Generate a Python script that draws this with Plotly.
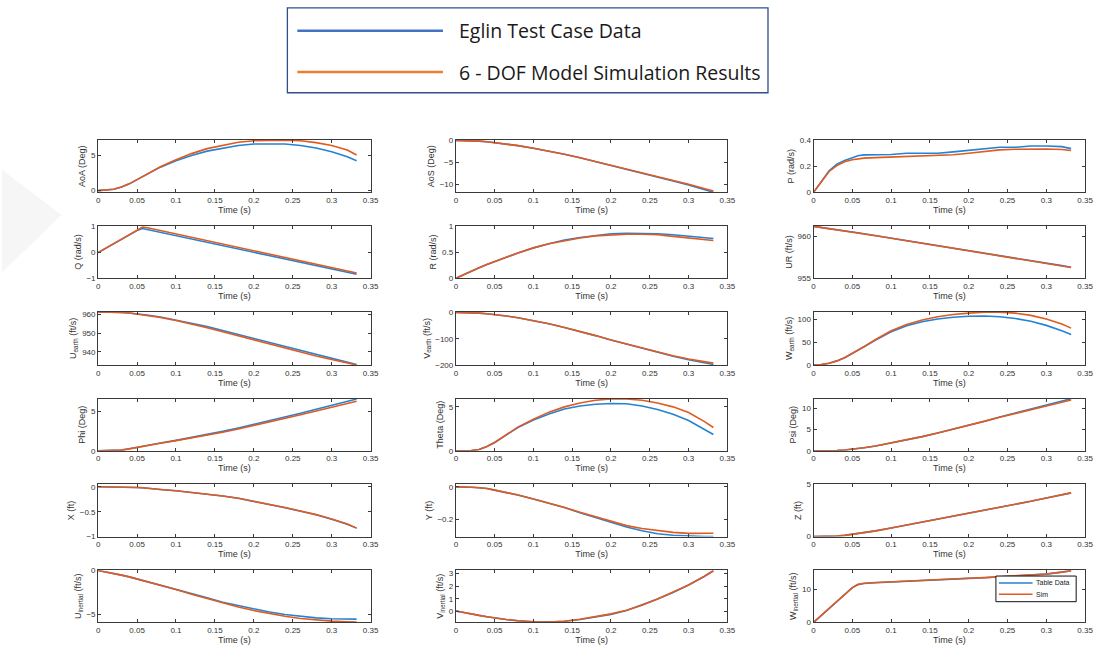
import plotly.graph_objects as go

# ---------------- data ----------------
T = [0, 0.01, 0.02, 0.03, 0.04, 0.05, 0.057, 0.065, 0.08, 0.10, 0.12, 0.14,
     0.16, 0.18, 0.20, 0.22, 0.24, 0.26, 0.28, 0.30, 0.32, 0.332]

AOA_TABLE = [0, 0.05, 0.2, 0.5, 0.95, 1.55, 1.95, 2.4, 3.3, 4.2, 4.95, 5.55, 6.0, 6.35, 6.55, 6.6, 6.55, 6.35, 6.0, 5.45, 4.75, 4.2]
AOA_SIM = [0, 0.05, 0.2, 0.5, 0.95, 1.55, 1.95, 2.4, 3.35, 4.35, 5.2, 5.9, 6.4, 6.8, 7.0, 7.1, 7.1, 7.0, 6.75, 6.35, 5.7, 5.0]

AOS_TABLE = [0, -0.02, -0.08, -0.18, -0.32, -0.5, -0.65, -0.85, -1.2, -1.8, -2.45, -3.15, -3.95, -4.8, -5.65, -6.5, -7.4, -8.3, -9.2, -10.1, -11.1, -11.75]
AOS_SIM = [0, -0.02, -0.08, -0.18, -0.32, -0.5, -0.65, -0.85, -1.2, -1.8, -2.45, -3.15, -3.95, -4.8, -5.62, -6.45, -7.33, -8.2, -9.08, -9.95, -10.9, -11.5]

P_TABLE = [0, 0.085, 0.165, 0.215, 0.245, 0.265, 0.28, 0.287, 0.288, 0.29, 0.3, 0.3, 0.3, 0.31, 0.32, 0.335, 0.345, 0.345, 0.355, 0.355, 0.35, 0.335]
P_SIM = [0, 0.085, 0.16, 0.205, 0.235, 0.25, 0.258, 0.262, 0.266, 0.27, 0.273, 0.276, 0.28, 0.288, 0.3, 0.315, 0.325, 0.33, 0.332, 0.332, 0.328, 0.32]

Q_TABLE = [-0.02, 0.15, 0.32, 0.48, 0.65, 0.82, 0.9, 0.85, 0.754, 0.627, 0.5, 0.372, 0.245, 0.118, -0.01, -0.137, -0.264, -0.39, -0.52, -0.645, -0.77, -0.85]
Q_SIM = [-0.02, 0.15, 0.32, 0.49, 0.66, 0.84, 0.96, 0.92, 0.823, 0.694, 0.565, 0.436, 0.307, 0.178, 0.048, -0.08, -0.21, -0.34, -0.47, -0.6, -0.72, -0.8]

R_TABLE = [0, 0.07, 0.14, 0.2, 0.26, 0.32, 0.36, 0.4, 0.48, 0.58, 0.66, 0.73, 0.78, 0.82, 0.85, 0.86, 0.86, 0.85, 0.83, 0.8, 0.77, 0.76]
R_SIM = [0, 0.07, 0.14, 0.2, 0.26, 0.32, 0.36, 0.4, 0.48, 0.58, 0.66, 0.72, 0.77, 0.81, 0.83, 0.84, 0.84, 0.83, 0.8, 0.77, 0.74, 0.72]

UR_TABLE = [961.2, 961.08, 960.95, 960.82, 960.68, 960.54, 960.44, 960.32, 960.1, 959.8, 959.5, 959.2, 958.9, 958.6, 958.3, 958.0, 957.7, 957.4, 957.1, 956.8, 956.5, 956.3]
UR_SIM = [961.2, 961.07, 960.94, 960.8, 960.66, 960.52, 960.42, 960.3, 960.08, 959.78, 959.48, 959.18, 958.88, 958.58, 958.28, 957.98, 957.68, 957.38, 957.08, 956.78, 956.48, 956.28]

UE_TABLE = [961.3, 961.3, 961.2, 961.0, 960.7, 960.3, 959.9, 959.5, 958.6, 957.0, 955.3, 953.5, 951.4, 949.3, 947.2, 945.0, 942.8, 940.6, 938.5, 936.4, 934.4, 933.2]
UE_SIM = [961.3, 961.3, 961.2, 961.0, 960.7, 960.2, 959.8, 959.3, 958.3, 956.7, 954.9, 952.9, 950.7, 948.5, 946.3, 944.1, 941.9, 939.8, 937.8, 935.9, 934.1, 933.0]

VE_TABLE = [0, -0.3, -1.0, -2.5, -4.5, -7.5, -10, -13, -20, -31, -43, -57, -72, -88, -105, -121, -137, -152, -167, -180, -192, -198]
VE_SIM = [0, -0.3, -1.0, -2.5, -4.5, -7.5, -10, -13, -20, -31, -43, -57, -72, -88, -105, -120, -135.5, -150, -164.5, -177, -187, -193]

WE_TABLE = [0, 1, 4, 9, 16, 25, 32, 40, 55, 73, 86, 95, 101, 105, 107, 107.5, 106, 102, 96, 87, 75, 67]
WE_SIM = [0, 1, 4, 9, 16, 25, 32, 40, 56, 75, 89, 99, 106, 111, 114, 116, 116, 114, 109, 101, 90, 81]

PHI_TABLE = [0, 0, 0.02, 0.08, 0.25, 0.45, 0.58, 0.72, 0.98, 1.32, 1.68, 2.05, 2.45, 2.88, 3.33, 3.8, 4.25, 4.75, 5.25, 5.72, 6.2, 6.55]
PHI_SIM = [0, 0, 0.02, 0.08, 0.24, 0.43, 0.56, 0.7, 0.95, 1.28, 1.62, 1.97, 2.35, 2.75, 3.18, 3.62, 4.07, 4.55, 5.02, 5.5, 5.95, 6.25]

THETA_TABLE = [0, 0, 0.03, 0.15, 0.5, 0.95, 1.35, 1.8, 2.65, 3.5, 4.2, 4.75, 5.1, 5.3, 5.38, 5.35, 5.1, 4.7, 4.15, 3.45, 2.5, 1.85]
THETA_SIM = [0, 0, 0.03, 0.15, 0.5, 0.95, 1.35, 1.8, 2.7, 3.6, 4.4, 5.0, 5.45, 5.75, 5.9, 5.9, 5.75, 5.45, 5.0, 4.35, 3.35, 2.65]

PSI_TABLE = [0, 0, 0.02, 0.08, 0.2, 0.38, 0.52, 0.7, 1.15, 1.85, 2.55, 3.35, 4.2, 5.1, 6.0, 7.0, 8.0, 8.95, 9.9, 10.8, 11.7, 12.3]
PSI_SIM = [0, 0, 0.02, 0.08, 0.2, 0.38, 0.52, 0.7, 1.15, 1.85, 2.55, 3.35, 4.2, 5.08, 5.97, 6.95, 7.92, 8.85, 9.75, 10.6, 11.45, 12.0]

X_TABLE = [0, 0, -0.002, -0.005, -0.01, -0.015, -0.02, -0.028, -0.055, -0.08, -0.11, -0.15, -0.185, -0.23, -0.29, -0.35, -0.42, -0.49, -0.56, -0.65, -0.75, -0.83]
X_SIM = [0, 0, -0.002, -0.005, -0.01, -0.015, -0.02, -0.028, -0.054, -0.079, -0.109, -0.148, -0.183, -0.228, -0.287, -0.347, -0.417, -0.487, -0.558, -0.648, -0.748, -0.83]

Y_TABLE = [0, 0, -0.002, -0.005, -0.01, -0.02, -0.027, -0.035, -0.05, -0.075, -0.1, -0.128, -0.16, -0.19, -0.22, -0.248, -0.272, -0.29, -0.3, -0.305, -0.307, -0.307]
Y_SIM = [0, 0, -0.002, -0.005, -0.01, -0.02, -0.027, -0.035, -0.05, -0.075, -0.1, -0.127, -0.157, -0.186, -0.215, -0.24, -0.258, -0.272, -0.282, -0.288, -0.289, -0.287]

Z_TABLE = [0, 0.01, 0.03, 0.06, 0.12, 0.22, 0.29, 0.37, 0.55, 0.82, 1.1, 1.38, 1.66, 1.93, 2.2, 2.48, 2.78, 3.08, 3.38, 3.7, 4.0, 4.18]
Z_SIM = [0, 0.01, 0.03, 0.06, 0.12, 0.22, 0.29, 0.37, 0.55, 0.82, 1.1, 1.38, 1.66, 1.93, 2.2, 2.48, 2.78, 3.08, 3.38, 3.7, 4.0, 4.18]

UI_TABLE = [0, -0.15, -0.33, -0.52, -0.72, -0.95, -1.1, -1.28, -1.65, -2.1, -2.6, -3.1, -3.6, -4.0, -4.4, -4.72, -5.0, -5.22, -5.38, -5.48, -5.52, -5.53]
UI_SIM = [0, -0.15, -0.33, -0.52, -0.72, -0.95, -1.1, -1.28, -1.67, -2.15, -2.7, -3.2, -3.7, -4.15, -4.55, -4.9, -5.2, -5.45, -5.62, -5.75, -5.82, -5.85]

VI_TABLE = [0.05, -0.08, -0.2, -0.3, -0.4, -0.5, -0.56, -0.62, -0.72, -0.8, -0.82, -0.76, -0.62, -0.44, -0.22, 0.08, 0.5, 0.98, 1.5, 2.08, 2.75, 3.2]
VI_SIM = [0.05, -0.08, -0.2, -0.3, -0.4, -0.5, -0.56, -0.62, -0.72, -0.8, -0.82, -0.76, -0.6, -0.41, -0.18, 0.1, 0.5, 0.98, 1.5, 2.08, 2.75, 3.2]

WI_TABLE = [0, 2.1, 4.2, 6.3, 8.4, 10.5, 11.4, 11.75, 12.0, 12.25, 12.45, 12.65, 12.85, 13.05, 13.3, 13.5, 13.75, 14.0, 14.25, 14.6, 15.2, 15.65]
WI_SIM = [0, 2.1, 4.2, 6.3, 8.4, 10.5, 11.5, 11.85, 12.05, 12.3, 12.5, 12.7, 12.9, 13.1, 13.35, 13.55, 13.8, 14.05, 14.3, 14.65, 15.2, 15.65]

X_TICKS = [0, 0.05, 0.1, 0.15, 0.2, 0.25, 0.3, 0.35]
LEGEND_TOP = ["Eglin Test Case Data", "6 - DOF Model Simulation Results"]
LEGEND_SMALL = ["Table Data", "Sim"]

PANELS = [
    ("AoA (Deg)", AOA_TABLE, AOA_SIM, [-0.25, 7.1], [0, 5]),
    ("AoS (Deg)", AOS_TABLE, AOS_SIM, [-11.8, 0.05], [-10, -5, 0]),
    ("P (rad/s)", P_TABLE, P_SIM, [0, 0.4], [0, 0.2, 0.4]),
    ("Q (rad/s)", Q_TABLE, Q_SIM, [-1, 1], [-1, 0, 1]),
    ("R (rad/s)", R_TABLE, R_SIM, [0, 1], [0, 0.5, 1]),
    ("UR (ft/s)", UR_TABLE, UR_SIM, [955, 961.25], [955, 960]),
    ("U<sub>earth</sub> (ft/s)", UE_TABLE, UE_SIM, [933, 961.4], [940, 950, 960]),
    ("V<sub>earth</sub> (ft/s)", VE_TABLE, VE_SIM, [-200, 3], [-200, -100, 0]),
    ("W<sub>earth</sub> (ft/s)", WE_TABLE, WE_SIM, [0, 117], [0, 50, 100]),
    ("Phi (Deg)", PHI_TABLE, PHI_SIM, [0, 6.6], [0, 5]),
    ("Theta (Deg)", THETA_TABLE, THETA_SIM, [0, 5.95], [0, 5]),
    ("Psi (Deg)", PSI_TABLE, PSI_SIM, [0, 12.35], [0, 5, 10]),
    ("X (ft)", X_TABLE, X_SIM, [-1, 0.05], [-1, -0.5, 0]),
    ("Y (ft)", Y_TABLE, Y_SIM, [-0.308, 0.016], [-0.2, 0]),
    ("Z (ft)", Z_TABLE, Z_SIM, [0, 5], [0, 5]),
    ("U<sub>inertial</sub> (ft/s)", UI_TABLE, UI_SIM, [-5.9, 0.05], [-5, 0]),
    ("V<sub>inertial</sub> (ft/s)", VI_TABLE, VI_SIM, [-0.85, 3.25], [0, 1, 2, 3]),
    ("W<sub>inertial</sub> (ft/s)", WI_TABLE, WI_SIM, [0, 15.8], [0, 10]),
]

# ---------------- styling / layout ----------------
W, H = 1103, 657
BLUE = "#2483d2"
ORANGE = "#e05a22"
AX = "#3a3a3a"
FONT = "Liberation Sans, Arial, sans-serif"

COLS = [(97, 372), (458, 732), (819, 1093)]
ROWS = [(138, 191), (225, 278), (312, 366), (400, 453), (487, 540), (574, 627)]


def px_x(v):
    return v / W


def px_y(v):
    return 1 - v / H


fig = go.Figure()
layout = {}
for i, (ytitle, tab, sim, yr, yt) in enumerate(PANELS):
    k = i + 1
    r, c = divmod(i, 3)
    xa = "x" if k == 1 else f"x{k}"
    ya = "y" if k == 1 else f"y{k}"
    fig.add_trace(go.Scatter(x=T, y=tab, xaxis=xa, yaxis=ya, mode="lines",
                             line=dict(color=BLUE, width=1.6),
                             name=LEGEND_SMALL[0], showlegend=False))
    fig.add_trace(go.Scatter(x=T, y=sim, xaxis=xa, yaxis=ya, mode="lines",
                             line=dict(color=ORANGE, width=1.6),
                             name=LEGEND_SMALL[1], showlegend=False))
    x0, x1 = COLS[c]
    y0, y1 = ROWS[r]
    common = dict(showline=True, mirror="ticks", linecolor=AX, linewidth=1,
                  ticks="inside", ticklen=3, tickcolor=AX, showgrid=False,
                  zeroline=False, tickfont=dict(size=8, color="#333", family=FONT))
    layout[f"xaxis{k}"] = dict(domain=[px_x(x0), px_x(x1)], anchor=ya,
                               range=[0, 0.35], tickvals=X_TICKS,
                               title=dict(text="Time (s)", standoff=2,
                                          font=dict(size=9, color="#333", family=FONT)),
                               **common)
    layout[f"yaxis{k}"] = dict(domain=[px_y(y1), px_y(y0)], anchor=xa,
                               range=yr, tickvals=yt,
                               title=dict(text=ytitle, standoff=3,
                                          font=dict(size=9, color="#333", family=FONT)),
                               **common)

fig.update_layout(**layout)

TOPFONT = dict(size=19.5, color="#1a1a1a", family="Open Sans, sans-serif")
SMALLFONT = dict(size=7, color="#222", family=FONT)

shapes = [
    # faint grey wedge at the left edge
    dict(type="path", xref="paper", yref="paper",
         path=f"M 0,{px_y(168)} L {px_x(60)},{px_y(214)} L 0,{px_y(272)} Z",
         line=dict(width=0), fillcolor="#f6f6f6", layer="below"),
    # top legend box
    dict(type="rect", xref="paper", yref="paper",
         x0=px_x(288), x1=px_x(773), y0=px_y(90), y1=px_y(4),
         line=dict(color="#2f4f8a", width=1.3), fillcolor="white"),
    dict(type="line", xref="paper", yref="paper",
         x0=px_x(298), x1=px_x(445), y0=px_y(27), y1=px_y(27),
         line=dict(color="#4472C4", width=2.5)),
    dict(type="line", xref="paper", yref="paper",
         x0=px_x(298), x1=px_x(445), y0=px_y(69), y1=px_y(69),
         line=dict(color="#ED7D31", width=2.5)),
    # small legend box inside the last panel
    dict(type="rect", xref="paper", yref="paper",
         x0=px_x(1003), x1=px_x(1084), y0=px_y(606), y1=px_y(580),
         line=dict(color="#111", width=1), fillcolor="white"),
    dict(type="line", xref="paper", yref="paper",
         x0=px_x(1006), x1=px_x(1040), y0=px_y(587), y1=px_y(587),
         line=dict(color=BLUE, width=1.4)),
    dict(type="line", xref="paper", yref="paper",
         x0=px_x(1006), x1=px_x(1040), y0=px_y(598.5), y1=px_y(598.5),
         line=dict(color=ORANGE, width=1.4)),
]
annotations = [
    dict(text=LEGEND_TOP[0], xref="paper", yref="paper", x=px_x(459), y=px_y(27),
         xanchor="left", yanchor="middle", showarrow=False, font=TOPFONT),
    dict(text=LEGEND_TOP[1], xref="paper", yref="paper", x=px_x(459), y=px_y(69),
         xanchor="left", yanchor="middle", showarrow=False, font=TOPFONT),
    dict(text=LEGEND_SMALL[0], xref="paper", yref="paper", x=px_x(1041), y=px_y(587),
         xanchor="left", yanchor="middle", showarrow=False, font=SMALLFONT),
    dict(text=LEGEND_SMALL[1], xref="paper", yref="paper", x=px_x(1041), y=px_y(598.5),
         xanchor="left", yanchor="middle", showarrow=False, font=SMALLFONT),
]

fig.update_layout(
    width=W, height=H, margin=dict(l=0, r=0, t=0, b=0),
    paper_bgcolor="white", plot_bgcolor="white",
    font=dict(family=FONT, size=8, color="#333"),
    shapes=shapes, annotations=annotations,
    showlegend=False,
)

fig.write_html("out.html", include_plotlyjs=True, full_html=True,
               config={"displayModeBar": False},
               post_script="document.body.style.margin='0';document.body.style.overflow='hidden';")
